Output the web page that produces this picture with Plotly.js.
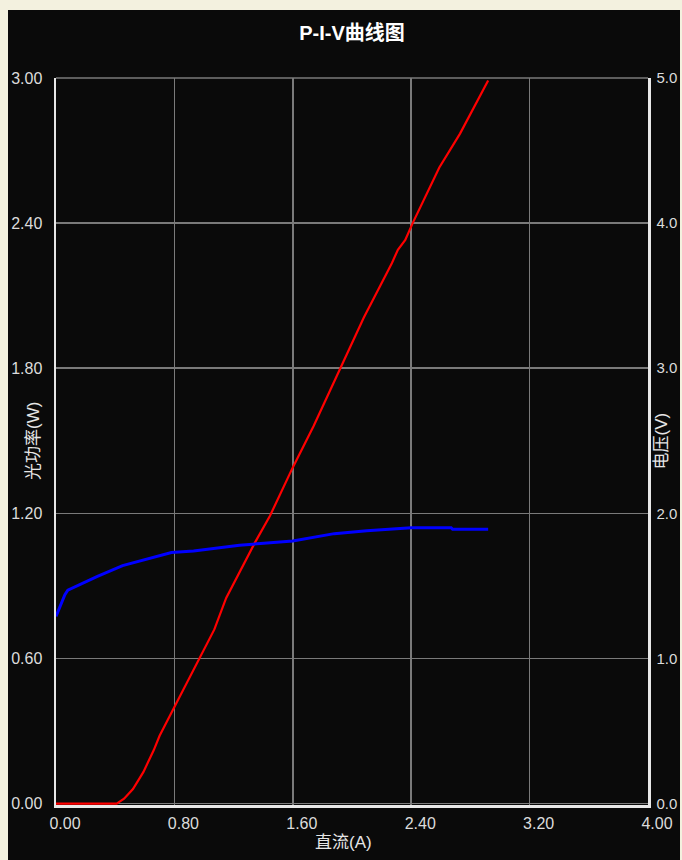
<!DOCTYPE html>
<html>
<head>
<meta charset="utf-8">
<script src="https://cdn.plot.ly/plotly-3.0.1.min.js"></script>
<style>
  html, body { margin: 0; padding: 0; background: #f3f1df; width: 682px; height: 860px; overflow: hidden; }
  #panel { position: absolute; left: 8px; top: 10px; width: 672px; height: 850px; background: #0a0a0a; overflow: hidden; }
  #chart { width: 672px; height: 850px; }
</style>
</head>
<body>
<div id="panel"><div id="chart"></div></div>
<script>
// Current (A) and optical power (W)
const powerCurrent = [0, 0.41, 0.46, 0.52, 0.59, 0.66, 0.70, 0.80, 0.96, 1.07, 1.15, 1.345, 1.446, 1.60, 1.74, 1.885, 2.08, 2.19, 2.27, 2.31, 2.36, 2.41, 2.53, 2.59, 2.73, 2.84, 2.92];
const powerValues  = [0, 0,    0.02, 0.06, 0.13, 0.22, 0.28, 0.40, 0.59, 0.72, 0.85, 1.08,  1.19,  1.39, 1.56, 1.75,  2.01, 2.14, 2.235, 2.29, 2.33, 2.40, 2.55, 2.63, 2.77, 2.90, 2.99];
// Current (A) and voltage (V)
const voltCurrent = [0, 0.02, 0.04, 0.06, 0.08, 0.12, 0.16, 0.28, 0.45, 0.68, 0.78, 0.93, 1.24, 1.60, 1.88, 2.10, 2.30, 2.40, 2.67, 2.68, 2.92];
const voltValues  = [1.29, 1.34, 1.385, 1.44, 1.47, 1.49, 1.51, 1.565, 1.64, 1.70, 1.73, 1.74, 1.78, 1.81, 1.86, 1.88, 1.89, 1.90, 1.90, 1.89, 1.89];

const titleText = 'P-I-V曲线图';
const xTitle = '直流(A)';
const yTitle = '光功率(W)';
const y2Title = '电压(V)';

const tickFont = { family: 'Liberation Sans, Arial, sans-serif', size: 16, color: '#dcdcdc' };
const tickFont2 = { family: 'Liberation Sans, Arial, sans-serif', size: 15, color: '#dcdcdc' };
const labelFont = { family: 'Liberation Sans, Noto Sans CJK SC, sans-serif', size: 17, color: '#e6e6e6' };
const gridColor = '#7a7a7a';
const lineColor = '#e8e8e8';

const traces = [
  { x: powerCurrent, y: powerValues, type: 'scatter', mode: 'lines', name: '光功率',
    line: { color: '#ff0000', width: 2.2 }, yaxis: 'y', hoverinfo: 'x+y' },
  { x: voltCurrent, y: voltValues, type: 'scatter', mode: 'lines', name: '电压',
    line: { color: '#0000ff', width: 3, shape: 'linear' }, yaxis: 'y2', hoverinfo: 'x+y' }
];

const layout = {
  width: 672, height: 850,
  paper_bgcolor: '#0a0a0a', plot_bgcolor: '#0a0a0a',
  margin: { l: 48, r: 32, t: 68, b: 55, pad: 0 },
  showlegend: false,
  title: { text: '<b>' + titleText + '</b>', x: 0.5, xref: 'paper', xanchor: 'center',
           y: 1 - 23 / 850, yref: 'container', yanchor: 'middle',
           font: { family: 'Liberation Sans, Noto Sans CJK SC, sans-serif', size: 20, color: '#ffffff' } },
  xaxis: {
    range: [0, 4], dtick: 0.8, tick0: 0, tickformat: '.2f',
    showgrid: true, gridcolor: gridColor, gridwidth: 1.5,
    showline: true, linecolor: lineColor, linewidth: 2.5, mirror: false,
    zeroline: false, ticks: '', tickfont: tickFont,
    ticklabelshift: 9, ticklabelstandoff: 2, layer: 'below traces', fixedrange: true
  },
  yaxis: {
    range: [-0.006, 3], dtick: 0.6, tick0: 0, tickformat: '.2f',
    showgrid: true, gridcolor: gridColor, gridwidth: 1.5,
    showline: true, linecolor: lineColor, linewidth: 2.5,
    zeroline: false, ticks: '', tickfont: tickFont, ticklabelstandoff: 8,
    layer: 'below traces', fixedrange: true
  },
  yaxis2: {
    range: [-0.01, 5], dtick: 1, tick0: 0, tickformat: '.1f',
    overlaying: 'y', side: 'right',
    showgrid: false, showline: true, linecolor: lineColor, linewidth: 2.5,
    zeroline: false, ticks: '', tickfont: tickFont2, ticklabelstandoff: 3,
    layer: 'below traces', fixedrange: true
  },
  shapes: [
    { type: 'line', xref: 'paper', yref: 'paper', x0: 0, x1: 1, y0: 1, y1: 1,
      line: { color: gridColor, width: 1.5 }, layer: 'below' }
  ],
  annotations: [
    { text: xTitle, xref: 'paper', yref: 'paper', x: 0.485, y: -0.0509, xanchor: 'center', yanchor: 'middle',
      showarrow: false, font: labelFont },
    { text: yTitle, xref: 'paper', yref: 'paper', x: -0.038, y: 0.5, xanchor: 'center', yanchor: 'middle',
      textangle: -90, showarrow: false, font: labelFont },
    { text: y2Title, xref: 'paper', yref: 'paper', x: 1.022, y: 0.5, xanchor: 'center', yanchor: 'middle',
      textangle: -90, showarrow: false, font: labelFont }
  ]
};

Plotly.newPlot('chart', traces, layout, { displayModeBar: false, staticPlot: true });
</script>
</body>
</html>
